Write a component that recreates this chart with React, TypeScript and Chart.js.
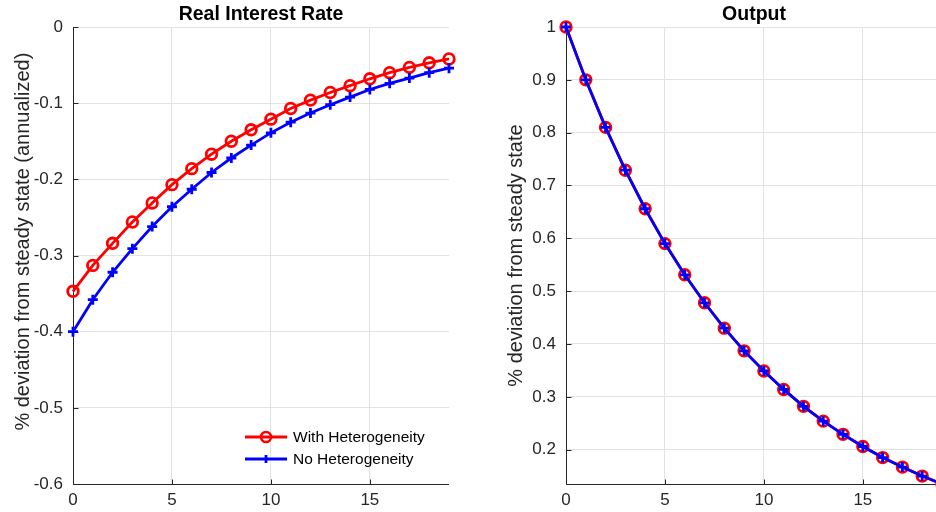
import React, { useEffect, useRef } from "react";
import { Chart, registerables } from "chart.js";

Chart.register(...registerables);

// ---------- data ----------
const periods = [0, 1, 2, 3, 4, 5, 6, 7, 8, 9, 10, 11, 12, 13, 14, 15, 16, 17, 18, 19];

const rateWithHet = [
  -0.347, -0.313, -0.284, -0.256, -0.231, -0.207, -0.186, -0.167, -0.150, -0.135,
  -0.121, -0.107, -0.096, -0.086, -0.077, -0.068, -0.060, -0.053, -0.047, -0.042,
];
const rateNoHet = [
  -0.400, -0.358, -0.322, -0.291, -0.262, -0.236, -0.213, -0.191, -0.172, -0.155,
  -0.139, -0.125, -0.113, -0.102, -0.092, -0.082, -0.074, -0.067, -0.060, -0.054,
];
const outputWithHet = [
  1.000, 0.900, 0.810, 0.729, 0.656, 0.590, 0.531, 0.478, 0.430, 0.387,
  0.349, 0.314, 0.282, 0.254, 0.229, 0.206, 0.185, 0.167, 0.150, 0.135,
];
const outputNoHet = [
  1.000, 0.900, 0.810, 0.729, 0.656, 0.590, 0.531, 0.478, 0.430, 0.387,
  0.349, 0.314, 0.282, 0.254, 0.229, 0.206, 0.185, 0.167, 0.150, 0.135,
];

const seriesLabels = ["With Heterogeneity", "No Heterogeneity"];
const rateTitle = "Real Interest Rate";
const outputTitle = "Output";
const rateYLabel = "% deviation from steady state (annualized)";
const outputYLabel = "% deviation from steady state";
const rateRange = [-0.6, 0];
const outputRange = [0.135, 1];
const xRange = [0, 19];

// ---------- style ----------
const FONT = "'Liberation Sans', Arial, Helvetica, sans-serif";
const AXIS_COLOR = "#262626";
const GRID_COLOR = "#e2e2e2";
const RED = "#ff0000";
const BLUE = "#0000ff";
const CANVAS_W = 470;
const CANVAS_H = 512;

function fmt(v: number) {
  const r = Math.round(v * 10) / 10;
  return r === 0 ? "0" : String(r);
}

const matlabAxes = {
  id: "matlabAxes",
  beforeDatasetsDraw(chart: any) {
    const { ctx, chartArea: a, scales } = chart;
    ctx.save();
    ctx.strokeStyle = AXIS_COLOR;
    ctx.lineWidth = 1;
    const lx = Math.round(a.left) + 0.5;
    const by = Math.round(a.bottom) + 0.5;
    ctx.beginPath();
    ctx.moveTo(lx, a.top);
    ctx.lineTo(lx, by);
    ctx.lineTo(a.right, by);
    scales.y.ticks.forEach((t: any) => {
      const p = Math.round(scales.y.getPixelForValue(t.value)) + 0.5;
      ctx.moveTo(lx, p);
      ctx.lineTo(lx + 5, p);
    });
    scales.x.ticks.forEach((t: any) => {
      const p = Math.round(scales.x.getPixelForValue(t.value)) + 0.5;
      ctx.moveTo(p, by);
      ctx.lineTo(p, by - 5);
    });
    ctx.stroke();
    ctx.restore();
  },
};

function makeLegendPlugin(entries: { label: string; color: string; marker: string }[]) {
  return {
    id: "insideLegend",
    afterDatasetsDraw(chart: any) {
      const { ctx, chartArea: a } = chart;
      ctx.save();
      const x0 = a.left + 172;
      const rowY = [a.bottom - 47, a.bottom - 25];
      entries.forEach((e, i) => {
        const y = rowY[i];
        ctx.strokeStyle = e.color;
        ctx.lineWidth = 2.8;
        ctx.beginPath();
        ctx.moveTo(x0, y);
        ctx.lineTo(x0 + 42, y);
        ctx.stroke();
        const cx = x0 + 21;
        ctx.beginPath();
        if (e.marker === "circle") {
          ctx.lineWidth = 2.6;
          ctx.arc(cx, y, 5, 0, Math.PI * 2);
        } else {
          ctx.lineWidth = 2.8;
          ctx.moveTo(cx, y - 4);
          ctx.lineTo(cx, y + 4);
        }
        ctx.stroke();
        ctx.fillStyle = "#000";
        ctx.font = `15.5px ${FONT}`;
        ctx.textAlign = "left";
        ctx.textBaseline = "middle";
        ctx.fillText(e.label, x0 + 48, y + 1);
      });
      ctx.restore();
    },
  };
}

function makeConfig(
  title: string,
  yLabel: string,
  yRange: number[],
  red: number[],
  blue: number[],
  withLegend: boolean
): any {
  const toPts = (vals: number[]) => periods.map((p, i) => ({ x: p, y: vals[i] }));
  const plugins: any[] = [matlabAxes];
  if (withLegend) {
    plugins.push(
      makeLegendPlugin([
        { label: seriesLabels[0], color: RED, marker: "circle" },
        { label: seriesLabels[1], color: BLUE, marker: "cross" },
      ])
    );
  }
  return {
    type: "line",
    data: {
      datasets: [
        {
          label: seriesLabels[1],
          data: toPts(blue),
          borderColor: BLUE,
          backgroundColor: BLUE,
          borderWidth: 2.8,
          pointStyle: "cross",
          pointRadius: 5,
          pointBorderWidth: 2.8,
          pointBorderColor: BLUE,
          tension: 0,
          clip: false,
        },
        {
          label: seriesLabels[0],
          data: toPts(red),
          borderColor: RED,
          backgroundColor: "rgba(0,0,0,0)",
          borderWidth: 2.8,
          pointStyle: "circle",
          pointRadius: 5.3,
          pointBorderWidth: 2.8,
          pointBorderColor: RED,
          pointBackgroundColor: "rgba(0,0,0,0)",
          tension: 0,
          clip: false,
        },
      ],
    },
    options: {
      responsive: false,
      animation: false,
      events: [],
      layout: { padding: { left: 0, right: CANVAS_W - 449, top: 0, bottom: 0 } },
      plugins: {
        legend: { display: false },
        tooltip: { enabled: false },
        title: {
          display: true,
          fullSize: false,
          text: title,
          color: "#000",
          font: { family: FONT, size: 19.5, weight: "bold", lineHeight: 1.2 },
          padding: { top: 3, bottom: 0.6 },
        },
      },
      scales: {
        x: {
          type: "linear",
          min: xRange[0],
          max: xRange[1],
          ticks: {
            stepSize: 5,
            includeBounds: false,
            color: AXIS_COLOR,
            font: { family: FONT, size: 17 },
            padding: 6,
            maxRotation: 0,
            callback: (v: any) => String(v),
          },
          grid: { color: GRID_COLOR, drawTicks: false, lineWidth: 1 },
          border: { display: false },
          afterFit: (s: any) => {
            s.height = 28;
          },
        },
        y: {
          type: "linear",
          min: yRange[0],
          max: yRange[1],
          ticks: {
            stepSize: 0.1,
            includeBounds: false,
            color: AXIS_COLOR,
            font: { family: FONT, size: 17 },
            padding: 10,
            callback: (v: any) => fmt(Number(v)),
          },
          grid: { color: GRID_COLOR, drawTicks: false, lineWidth: 1 },
          border: { display: false },
          title: {
            display: true,
            text: yLabel,
            color: AXIS_COLOR,
            font: { family: FONT, size: 20, lineHeight: 1.2 },
            padding: { top: 11.5, bottom: 0 },
          },
          afterFit: (s: any) => {
            s.width = 73;
          },
        },
      },
    },
    plugins,
  };
}

function ChartCanvas(props: { config: () => any; left: number }) {
  const ref = useRef<HTMLCanvasElement | null>(null);
  useEffect(() => {
    if (!ref.current) return;
    const chart = new Chart(ref.current, props.config());
    return () => chart.destroy();
  }, []);
  return (
    <canvas
      ref={ref}
      width={CANVAS_W}
      height={CANVAS_H}
      style={{ position: "absolute", left: props.left, top: 0, width: CANVAS_W, height: CANVAS_H, display: "block" }}
    />
  );
}

export default function App() {
  return (
    <div
      style={{
        position: "fixed",
        left: 0,
        top: 0,
        width: 936,
        height: 512,
        overflow: "hidden",
        background: "#fff",
      }}
    >
      <ChartCanvas
        left={0}
        config={() =>
          makeConfig(rateTitle, "\u00a0\u00a0\u00a0\u00a0\u00a0" + rateYLabel, rateRange, rateWithHet, rateNoHet, true)
        }
      />
      <ChartCanvas
        left={493}
        config={() => makeConfig(outputTitle, outputYLabel, outputRange, outputWithHet, outputNoHet, false)}
      />
    </div>
  );
}
